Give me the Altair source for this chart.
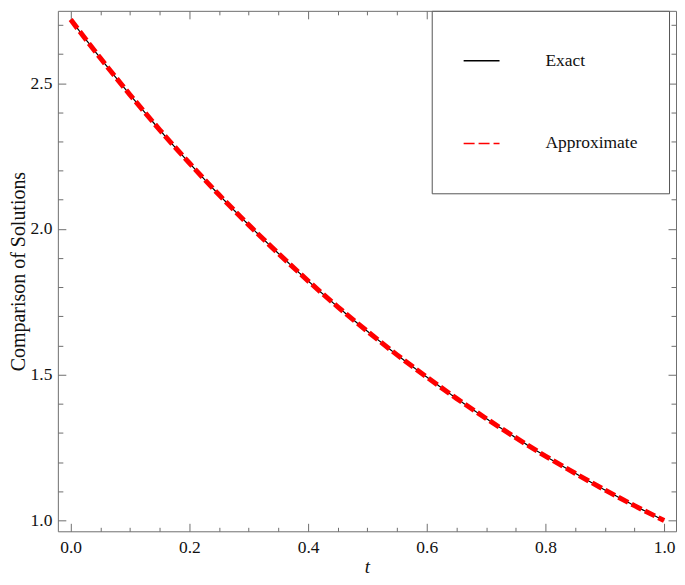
import altair as alt
import pandas as pd

# values
t_vals = [0.00, 0.05, 0.10, 0.15, 0.20, 0.25, 0.30, 0.35, 0.40, 0.45, 0.50,
          0.55, 0.60, 0.65, 0.70, 0.75, 0.80, 0.85, 0.90, 0.95, 1.00]
exact_vals = [2.718, 2.586, 2.460, 2.340, 2.226, 2.117, 2.014, 1.916, 1.822, 1.733, 1.649,
              1.568, 1.492, 1.419, 1.350, 1.284, 1.221, 1.162, 1.105, 1.051, 1.000]
approx_vals = [2.718, 2.586, 2.460, 2.340, 2.226, 2.117, 2.014, 1.916, 1.822, 1.733, 1.649,
               1.568, 1.492, 1.419, 1.350, 1.284, 1.221, 1.162, 1.105, 1.051, 1.000]
series_names = ["Exact", "Approximate"]

x_major = [0.0, 0.2, 0.4, 0.6, 0.8, 1.0]
x_minor = [0.05, 0.10, 0.15, 0.25, 0.30, 0.35, 0.45, 0.50, 0.55,
           0.65, 0.70, 0.75, 0.85, 0.90, 0.95]
y_major = [1.0, 1.5, 2.0, 2.5]
y_minor = [1.1, 1.2, 1.3, 1.4, 1.6, 1.7, 1.8, 1.9, 2.1, 2.2, 2.3, 2.4, 2.6, 2.7]

x_domain = [-0.0216, 1.02]
y_domain = [0.963, 2.748]

W, H = 620, 522
FONT = "Liberation Serif"
FRAME = "#6e6e6e"

df = pd.DataFrame({
    "t": t_vals * 2,
    "value": exact_vals + approx_vals,
    "series": ["Exact"] * len(t_vals) + ["Approximate"] * len(t_vals),
})

xs = alt.Scale(domain=x_domain, nice=False, zero=False)
ys = alt.Scale(domain=y_domain, nice=False, zero=False)


def tick_axis(orient, offset, values, size):
    return alt.Axis(orient=orient, offset=offset, values=values, tickSize=size,
                    labels=False, domain=False, grid=False, title=None,
                    ticks=True, tickColor=FRAME, tickWidth=1)


color_enc = alt.Color("series:N", scale=alt.Scale(domain=series_names, range=["black", "#ff0000"]),
                      legend=alt.Legend(
                          title=" ", titleOrient="bottom", titleFontSize=10, titlePadding=0,
                          orient="none", legendX=375, legendY=0,
                          symbolType="stroke", symbolSize=1296, symbolStrokeWidth=1.5,
                          labelFont=FONT, labelFontSize=17.5, labelColor="#111",
                          labelOffset=45, rowPadding=55, padding=31,
                          fillColor="white", strokeColor="#555"))
dash_enc = alt.StrokeDash("series:N", scale=alt.Scale(domain=series_names, range=[[1, 0], [11, 4]]),
                          legend=None)

main_x = alt.Axis(orient="bottom", values=x_major, format=".1f", ticks=False, domain=False,
                  grid=False, labelPadding=7, title="t", titleFontStyle="italic",
                  titleFontSize=19, titlePadding=2)
main_y = alt.Axis(orient="left", values=y_major, format=".1f", ticks=False, domain=False,
                  grid=False, labelPadding=6, title="Comparison of Solutions",
                  titleFontSize=20, titlePadding=2)

exact = alt.Chart(df).transform_filter(alt.datum.series == "Exact").mark_line(
    strokeWidth=1.2, interpolate="monotone").encode(
    x=alt.X("t:Q", scale=xs, axis=main_x),
    y=alt.Y("value:Q", scale=ys, axis=main_y),
    color=color_enc, strokeDash=dash_enc)

approx = alt.Chart(df).transform_filter(alt.datum.series == "Approximate").mark_line(
    strokeWidth=5, interpolate="monotone").encode(
    x=alt.X("t:Q", scale=xs, axis=tick_axis("top", -H, x_major, 8)),
    y=alt.Y("value:Q", scale=ys, axis=tick_axis("right", -W, y_major, 8)),
    color=color_enc, strokeDash=dash_enc)

base_dummy = alt.Chart(df).transform_filter(alt.datum.series == "Exact").mark_line(strokeOpacity=0)

d1 = base_dummy.encode(
    x=alt.X("t:Q", scale=xs, axis=tick_axis("top", -H, x_minor, 4)),
    y=alt.Y("value:Q", scale=ys, axis=tick_axis("right", -W, y_minor, 5)))
d2 = base_dummy.encode(
    x=alt.X("t:Q", scale=xs, axis=tick_axis("bottom", -H, x_major, 8)),
    y=alt.Y("value:Q", scale=ys, axis=tick_axis("left", -W, y_major, 8)))
d3 = base_dummy.encode(
    x=alt.X("t:Q", scale=xs, axis=tick_axis("bottom", -H, x_minor, 4)),
    y=alt.Y("value:Q", scale=ys, axis=tick_axis("left", -W, y_minor, 5)))

chart = alt.layer(exact, approx, d1, d2, d3).resolve_axis(
    x="independent", y="independent"
).properties(
    width=W, height=H,
    padding={"left": 0, "top": 0, "right": 0, "bottom": 0},
).configure_view(
    stroke=FRAME, strokeWidth=1
).configure_axis(
    labelFont=FONT, labelFontSize=17.5, labelColor="#111",
    titleFont=FONT, titleColor="#111", titleFontWeight="normal",
)

chart.save("out.html", embed_options={"renderer": "svg", "actions": False})
